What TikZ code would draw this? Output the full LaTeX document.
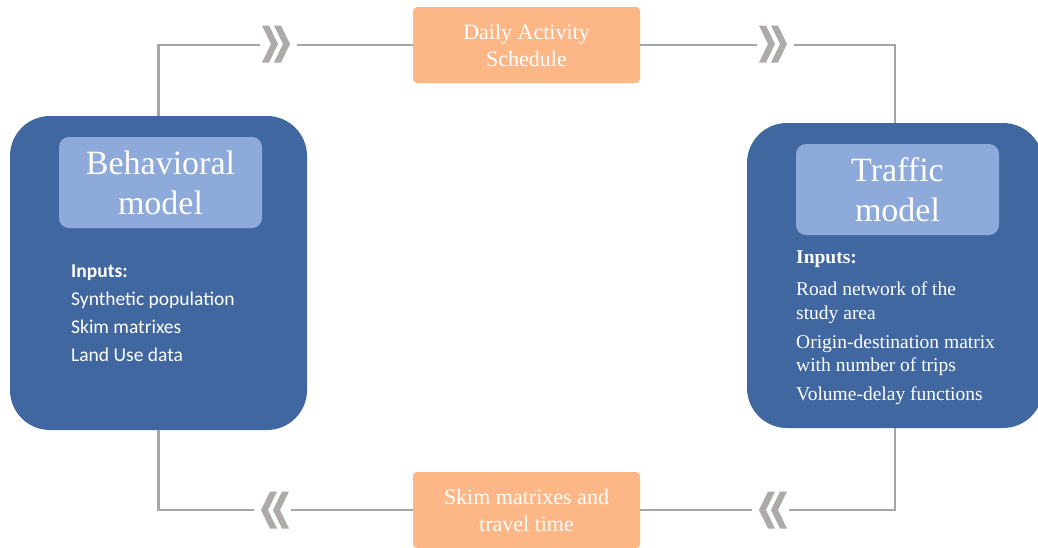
\documentclass[tikz,border=0pt]{standalone}
\usepackage{fontspec}
\setmainfont{Liberation Serif}
\newfontfamily\calibri{Carlito}
\definecolor{modelblue}{HTML}{4167A1}
\definecolor{titleblue}{HTML}{8EAADB}
\definecolor{flowpeach}{HTML}{FDB787}
\definecolor{linegray}{HTML}{A6A6A6}
\definecolor{chevgray}{HTML}{AEAAAA}

\begin{document}
\begin{tikzpicture}[x=1pt,y=-1pt,
    model/.style={fill=modelblue, rounded corners=40pt, inner sep=0pt},
    title/.style={fill=titleblue, rounded corners=10pt, text=white, align=center,
        minimum width=203pt, minimum height=91pt, inner sep=0pt,
        font=\fontsize{34}{40}\selectfont},
    inputs/.style={anchor=north west, text=white, align=left, inner sep=0pt},
    flow/.style={fill=flowpeach, rounded corners=4pt, text=white, align=center,
        minimum width=227pt, minimum height=76pt, inner sep=0pt,
        font=\fontsize{22}{27}\selectfont},
    link/.style={draw=linegray, line width=2.5pt},
    chev/.pic={
        \fill[white] (-2,-20) rectangle (35,20);
        \foreach \dx in {0,12}
            \fill[chevgray] (\dx,-18.5) -- ++(7,0) -- ++(9,18.5) -- ++(-9,18.5)
                -- ++(-7,0) -- ++(9,-18.5) -- cycle;
    }]
    \useasboundingbox (0,0) rectangle (1038,547);

    % the two models
    \node[model, minimum width=297pt, minimum height=314pt] (beh) at (158.5,273) {};
    \node[model, minimum width=296pt, minimum height=305pt] (traf) at (895,275.5) {};
    \node[title] (behtitle) at (160.5,182.5) {Behavioral\\model};
    \node[title] (traftitle) at (897.5,189.5) {Traffic\\model};
    \node[inputs, font=\calibri\fontsize{19.5}{28}\selectfont] (behin) at (71,264.5)
        {\textbf{Inputs:}\\Synthetic population\\Skim matrixes\\Land Use data};
    \node[inputs, font=\fontsize{19.5}{23.5}\selectfont] (trafin) at (796,251)
        {\textbf{Inputs:}\\[8.5pt]Road network of the\\study area\\[5.5pt]
         Origin-destination matrix\\with number of trips\\[5pt]Volume-delay functions};

    % exchanged data
    \node[flow] (das) at (526.5,45) {Daily Activity\\Schedule};
    \node[flow] (skim) at (526.5,510) {Skim matrixes and\\travel time};

    % loop
    \draw[link] (beh.north) |- (das.west);
    \draw[link] (das.east) -| (traf.north);
    \draw[link] (traf.south) |- (skim.east);
    \draw[link] (skim.west) -| (beh.south);
    \pic at (262,44) {chev};
    \pic at (759,44) {chev};
    \pic[xscale=-1] at (289,510) {chev};
    \pic[xscale=-1] at (787,510) {chev};
\end{tikzpicture}
\end{document}
